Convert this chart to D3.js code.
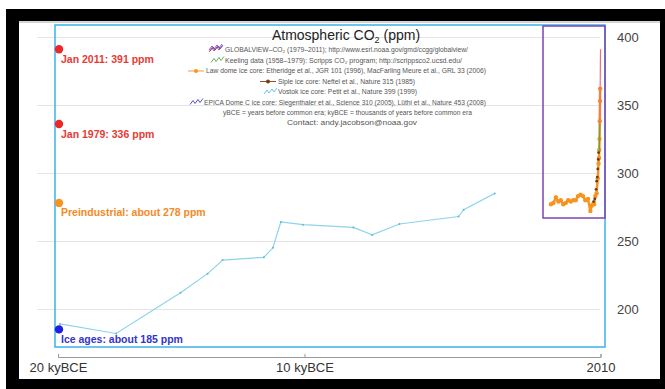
<!DOCTYPE html>
<html>
<head>
<meta charset="utf-8">
<script src="https://cdn.jsdelivr.net/npm/d3@7"></script>
<style>
  body { margin: 0; background: #fff; }
  svg { display: block; font-family: "Liberation Sans", Arial, Helvetica, sans-serif; }
</style>
</head>
<body>
<script>
// ---- data ----
const vostokYears = [-19920, -17640, -15030, -13930, -13320, -11650, -11280, -10960, -10060, -8020, -7250, -6150, -3750, -3540, -2280];
const vostokPpm   = [189, 182, 212, 226, 236, 238, 245, 264, 262, 260, 254.5, 262.5, 268, 273, 285];

const lawYears = [0, 100, 200, 300, 400, 500, 600, 700, 800, 900, 1000, 1100, 1200, 1300, 1400, 1500, 1600, 1650, 1700, 1750, 1800, 1850, 1900, 1930, 1950, 1960, 1970, 1980, 1990, 1996];
const lawPpm   = [277, 278, 282, 279, 280, 277, 278, 280, 279, 280, 280, 283, 284, 283, 280, 281, 272, 276, 277, 277, 283, 285, 296, 307, 311, 317, 325, 338, 353, 362];

const sipleYears = [1750, 1800, 1850, 1875, 1900, 1920, 1940, 1953];
const siplePpm   = [279, 281, 288, 294, 297, 303, 310, 315];

const keelingYears = [1958, 1965, 1970, 1975, 1979];
const keelingPpm   = [315, 320, 325, 331, 336];

const globalviewYears = [1979, 1985, 1990, 1995, 2000, 2005, 2011];
const globalviewPpm   = [336, 346, 354, 361, 369, 380, 391];

const markerLabels = ["Jan 2011: 391 ppm", "Jan 1979: 336 ppm", "Preindustrial: about 278 ppm", "Ice ages: about 185 ppm"];
const markerPpm    = [391, 336, 278, 185];
const markerColors = ["#ec2727", "#ec2727", "#f7931e", "#1f1fe0"];
const markerText   = ["#e83a35", "#e83a35", "#f48a26", "#3434c8"];

const xTicks = [-20000, -10000, 2010];
const xTickLabels = ["20 kyBCE", "10 kyBCE", "2010"];
const yTicks = [200, 250, 300, 350, 400];

const legendTexts = [
  "GLOBALVIEW–CO₂ (1979–2011); http://www.esrl.noaa.gov/gmd/ccgg/globalview/",
  "Keeling data (1958–1979): Scripps CO₂ program; http://scrippsco2.ucsd.edu/",
  "Law dome ice core:  Etheridge et al., JGR 101 (1996), MacFarling Meure et al., GRL 33 (2006)",
  "Siple ice core:  Neftel et al., Nature 315 (1985)",
  "Vostok ice core:  Petit et al., Nature 399 (1999)",
  "EPICA Dome C ice core:  Siegenthaler et al., Science 310 (2005), Lüthi et al., Nature 453 (2008)",
  "yBCE = years before common era; kyBCE = thousands of years before common era",
  "Contact: andy.jacobson@noaa.gov"
];
const legendIcons = ["multi", "green", "orange", "brown", "lightblue", "darkblue", null, null];

// ---- layout ----
const W = 665, H = 389;
const svg = d3.select("body").append("svg").attr("width", W).attr("height", H);

// black frame
svg.append("rect").attr("x", 6).attr("y", 9).attr("width", W - 6).attr("height", H - 9).attr("fill", "#000");
svg.append("rect").attr("x", 19).attr("y", 21).attr("width", 641).attr("height", 358).attr("fill", "#fff");
svg.append("line").attr("x1", 19).attr("x2", 660).attr("y1", 22).attr("y2", 22).attr("stroke", "#aaa").attr("stroke-width", 1);

const x = d3.scaleLinear().domain([-20000, 2010]).range([58, 600.5]);
const y = d3.scaleLinear().domain([200, 400]).range([309, 37]);

// y axis with gridlines
const yAxis = svg.append("g")
  .attr("transform", "translate(600,0)")
  .call(d3.axisRight(y).tickValues(yTicks).tickSize(-563).tickPadding(17).tickFormat(d3.format("d")));
yAxis.select(".domain").remove();
yAxis.selectAll(".tick line").attr("stroke", "#e4e4e4");
yAxis.selectAll(".tick text").attr("fill", "#444").style("font-size", "13px");

// x axis
const xAxis = svg.append("g")
  .attr("transform", "translate(0,357)")
  .call(d3.axisBottom(x).tickValues(xTicks).tickSizeInner(-3).tickSizeOuter(-3).tickPadding(6)
    .tickFormat((d, i) => xTickLabels[i]));
xAxis.select(".domain").attr("stroke", "#999");
xAxis.selectAll(".tick line").attr("stroke", "#999");
xAxis.selectAll(".tick text").attr("fill", "#333").style("font-size", "13px");

// frames
svg.append("rect").attr("x", 55).attr("y", 25).attr("width", 550).attr("height", 322)
  .attr("fill", "none").attr("stroke", "#3bb3ea").attr("stroke-width", 1.5);

const line = d3.line().x(d => x(d[0])).y(d => y(d[1]));

// Vostok
const vostok = vostokYears.map((t, i) => [t, vostokPpm[i]]);
svg.append("path").datum(vostok).attr("d", line).attr("fill", "none").attr("stroke", "#8ed4ea").attr("stroke-width", 1.2);
svg.selectAll(".vdot").data(vostok).enter().append("circle").attr("class", "vdot")
  .attr("cx", d => x(d[0])).attr("cy", d => y(d[1])).attr("r", 1).attr("fill", "#5fb8d6");

// Law dome
const law = lawYears.map((t, i) => [t, lawPpm[i]]);
svg.append("path").datum(law).attr("d", line).attr("fill", "none").attr("stroke", "#f7931e").attr("stroke-width", 2.5);
svg.selectAll(".ldot").data(law).enter().append("circle").attr("class", "ldot")
  .attr("cx", d => x(d[0])).attr("cy", d => y(d[1])).attr("r", 2.2).attr("fill", "#f7931e");

// Keeling
const keeling = keelingYears.map((t, i) => [t, keelingPpm[i]]);
svg.append("path").datum(keeling).attr("d", line).attr("fill", "none").attr("stroke", "#5fa84a").attr("stroke-width", 1.2);

// GLOBALVIEW
const gv = globalviewYears.map((t, i) => [t, globalviewPpm[i]]);
svg.append("path").datum(gv).attr("d", line).attr("fill", "none").attr("stroke", "#f07070").attr("stroke-width", 1.2);

// Siple
const siple = sipleYears.map((t, i) => [t, siplePpm[i]]);
svg.selectAll(".sdot").data(siple).enter().append("circle").attr("class", "sdot")
  .attr("cx", d => x(d[0]) - 0.5).attr("cy", d => y(d[1])).attr("r", 1.4).attr("fill", "#6b3a10");

// inset frame
svg.append("rect").attr("x", 543).attr("y", 26).attr("width", 62).attr("height", 192)
  .attr("fill", "none").attr("stroke", "#7a44b5").attr("stroke-width", 1.5);

// markers
const markers = svg.append("g").selectAll("g").data(markerPpm).enter().append("g");
markers.append("circle").attr("cx", 59).attr("cy", d => y(d)).attr("r", 4.2)
  .attr("fill", (d, i) => markerColors[i]);
markers.append("text").attr("x", 61).attr("y", d => y(d) + 13.5)
  .attr("fill", (d, i) => markerText[i]).style("font-size", "10.5px").style("font-weight", "bold")
  .text((d, i) => markerLabels[i]);

// title
const title = svg.append("text").attr("x", 346).attr("y", 40).attr("text-anchor", "middle")
  .attr("fill", "#222").style("font-size", "14px");
title.append("tspan").text("Atmospheric CO");
title.append("tspan").attr("dy", 3).style("font-size", "9px").text("2");
title.append("tspan").attr("dy", -3).text(" (ppm)");

// legend
const legendY = [52, 62.5, 73, 83.5, 94, 104.5, 115, 125];
const legendX = [225, 225, 206, 278, 278, 204, 223, 287];
const legendW = [243, 237, 280, 137, 139, 282, 249, 130];
const iconColors = {
  green: "#4aa84a", orange: "#f7931e", brown: "#7a4010", lightblue: "#57c0ea", darkblue: "#4040c0"
};
legendTexts.forEach((t, i) => {
  svg.append("text").attr("x", legendX[i]).attr("y", legendY[i]).attr("fill", "#555")
    .attr("textLength", legendW[i]).attr("lengthAdjust", "spacingAndGlyphs")
    .style("font-size", "6.6px").text(t);
  const kind = legendIcons[i];
  if (!kind) return;
  const ix = legendX[i] - 16, iy = legendY[i] - 2;
  const zig = (dx, dy, c) => svg.append("path")
    .attr("d", `M${ix + dx},${iy + 2 + dy} l3,-4 l2,3 l3,-4 l2,3 l3,-4`)
    .attr("fill", "none").attr("stroke", c).attr("stroke-width", 0.9);
  if (kind === "multi") {
    zig(0, 0, "#e03030"); zig(1, -1, "#3050e0"); zig(0, -2, "#9040c0");
  } else if (kind === "orange" || kind === "brown") {
    svg.append("line").attr("x1", ix - 2).attr("x2", ix + 14).attr("y1", iy).attr("y2", iy)
      .attr("stroke", iconColors[kind]).attr("stroke-width", 0.9);
    svg.append("circle").attr("cx", ix + 6).attr("cy", iy).attr("r", 2).attr("fill", iconColors[kind]);
  } else {
    zig(2, 0, iconColors[kind]);
  }
});
</script>
</body>
</html>
